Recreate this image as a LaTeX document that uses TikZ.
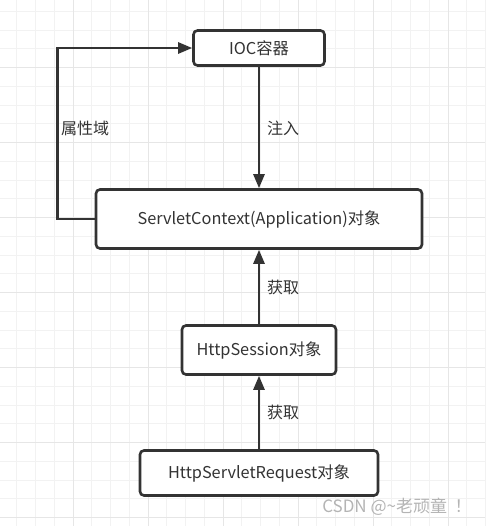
\documentclass[tikz,border=0pt]{standalone}
\usepackage{fontspec}
\setmainfont{Noto Sans CJK SC}
\usetikzlibrary{arrows.meta}
\definecolor{ink}{HTML}{333333}
\definecolor{gridminor}{HTML}{F2F2F2}
\definecolor{gridmajor}{HTML}{E6E6E6}
\definecolor{wm}{HTML}{B4B4B4}
\tikzset{
  box/.style={draw=ink, line width=2.6pt, rounded corners=4pt, fill=white, text=ink, font=\fontsize{16.3}{18}\selectfont, inner sep=0pt},
  arr/.style={draw=ink, line width=2.6pt, -{Triangle[length=14pt,width=11pt]}},
  lbl/.style={text=ink, font=\fontsize{16}{18}\selectfont, inner sep=0pt},
  minorline/.style={draw=gridminor, line width=0.9pt},
  majorline/.style={draw=gridmajor, line width=1pt}
}
\begin{document}
\begin{tikzpicture}[x=1pt,y=-1pt]
\useasboundingbox[fill=white] (0,0) rectangle (485,526);
\foreach \i in {0,...,25} {
  \draw[minorline] ({16.75+\i*18.75},0) -- ({16.75+\i*18.75},526);
}
\foreach \i in {0,...,27} {
  \draw[minorline] (0,{11.25+\i*18.75}) -- (485,{11.25+\i*18.75});
}
\foreach \i in {0,...,5} {
  \draw[majorline] ({73+\i*75},0) -- ({73+\i*75},526);
}
\foreach \i in {0,...,6} {
  \draw[majorline] (0,{67.5+\i*75}) -- (485,{67.5+\i*75});
}
\node[box, minimum width=131pt, minimum height=35pt] (ioc) at (259,48) {IOC容器};
\node[box, minimum width=326pt, minimum height=59pt] (sc) at (259,219) {ServletContext(Application)对象};
\node[box, minimum width=154pt, minimum height=49pt] (ses) at (259,350) {HttpSession对象};
\node[box, minimum width=238pt, minimum height=45pt] (req) at (259,473) {HttpServletRequest对象};
\draw[arr] (ioc.south) -- (sc.north);
\draw[arr] (ses.north) -- (sc.south);
\draw[arr] (req.north) -- (ses.south);
\draw[arr, rounded corners=0pt] (sc.west) -- ++(-37,0) |- (ioc.west);
\node[lbl] (l1) at (283,128) {注入};
\node[lbl] (l2) at (283,287) {获取};
\node[lbl] (l3) at (283,412) {获取};
\node[lbl] (l4) at (85,128) {属性域};
\node[text=wm, font=\fontsize{17}{18}\selectfont, inner sep=0pt] (wmk) at (397,507) {CSDN @\textasciitilde 老顽童\hspace{0.45em}！\hspace{0.3em}};
\end{tikzpicture}
\end{document}
